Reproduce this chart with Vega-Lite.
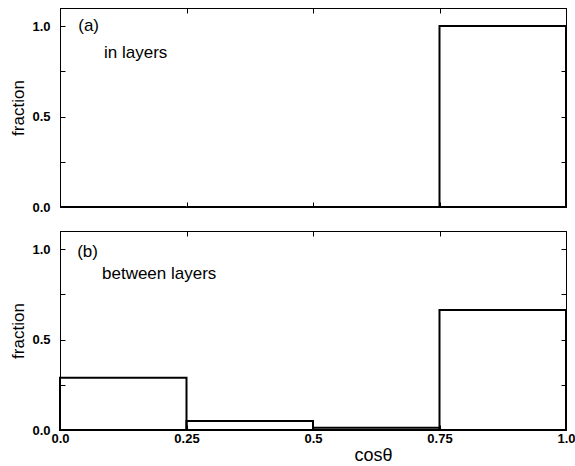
{
  "$schema": "https://vega.github.io/schema/vega-lite/v6.json",
  "padding": {"left": 9, "top": 7, "right": 0, "bottom": 0},
  "spacing": 15,
  "config": {
    "font": "Liberation Sans",
    "view": {"stroke": "black", "strokeWidth": 1},
    "axis": {
      "grid": false,
      "domainColor": "black",
      "tickColor": "black",
      "tickSize": -5,
      "labelFont": "Liberation Sans",
      "labelFontWeight": "bold",
      "labelFontSize": 13,
      "labelColor": "black",
      "titleFont": "Liberation Sans",
      "titleFontWeight": "normal",
      "titleFontSize": 17,
      "titleColor": "black"
    }
  },
  "datasets": {
    "bars": [
      {"panel": "a", "x0": 0, "x1": 0.25, "frac": 0},
      {"panel": "a", "x0": 0.25, "x1": 0.5, "frac": 0},
      {"panel": "a", "x0": 0.5, "x1": 0.75, "frac": 0},
      {"panel": "a", "x0": 0.75, "x1": 1.0, "frac": 1.0},
      {"panel": "b", "x0": 0, "x1": 0.25, "frac": 0.289},
      {"panel": "b", "x0": 0.25, "x1": 0.5, "frac": 0.05},
      {"panel": "b", "x0": 0.5, "x1": 0.75, "frac": 0.013},
      {"panel": "b", "x0": 0.75, "x1": 1.0, "frac": 0.663}
    ],
    "notes": [
      {"panel": "a", "x": 0.036, "y": 1.0, "text": "(a)"},
      {"panel": "a", "x": 0.087, "y": 0.851, "text": "in layers"},
      {"panel": "b", "x": 0.034, "y": 0.983, "text": "(b)"},
      {"panel": "b", "x": 0.083, "y": 0.862, "text": "between layers"}
    ]
  },
  "vconcat": [
    {
      "width": 506,
      "height": 199,
      "resolve": {"axis": {"x": "independent", "y": "independent"}},
      "layer": [
        {
          "data": {"name": "bars"},
          "transform": [{"filter": "datum.panel == 'a'"}],
          "mark": {"type": "rect", "fillOpacity": 0, "stroke": "black", "strokeWidth": 2},
          "encoding": {
            "x": {"field": "x0", "type": "quantitative", "scale": {"domain": [0, 1], "nice": false},
                  "axis": {"orient": "bottom", "values": [0, 0.25, 0.5, 0.75, 1], "labels": false, "title": null}},
            "x2": {"field": "x1"},
            "y": {"field": "frac", "type": "quantitative", "scale": {"domain": [0, 1.1], "nice": false},
                  "axis": {"orient": "left", "values": [0, 0.25, 0.5, 0.75, 1], "labelPadding": 15, "titlePadding": 4,
                           "labelExpr": "datum.value == 0.25 || datum.value == 0.75 ? '' : format(datum.value, '.1f')",
                           "title": "fraction"}},
            "y2": {"datum": 0}
          }
        },
        {
          "data": {"name": "notes"},
          "transform": [{"filter": "datum.panel == 'a'"}],
          "mark": {"type": "text", "align": "left", "baseline": "middle", "fontSize": 17, "font": "Liberation Sans", "color": "black"},
          "encoding": {
            "x": {"field": "x", "type": "quantitative", "scale": {"domain": [0, 1], "nice": false},
                  "axis": {"orient": "top", "values": [0, 0.25, 0.5, 0.75, 1], "labels": false, "title": null}},
            "y": {"field": "y", "type": "quantitative", "scale": {"domain": [0, 1.1], "nice": false},
                  "axis": {"orient": "right", "values": [0, 0.25, 0.5, 0.75, 1], "labels": false, "title": null}},
            "text": {"field": "text"}
          }
        }
      ]
    },
    {
      "width": 506,
      "height": 199,
      "resolve": {"axis": {"x": "independent", "y": "independent"}},
      "layer": [
        {
          "data": {"name": "bars"},
          "transform": [{"filter": "datum.panel == 'b'"}],
          "mark": {"type": "rect", "fillOpacity": 0, "stroke": "black", "strokeWidth": 2},
          "encoding": {
            "x": {"field": "x0", "type": "quantitative", "scale": {"domain": [0, 1], "nice": false},
                  "axis": {"orient": "bottom", "values": [0, 0.25, 0.5, 0.75, 1], "format": ".2~f", "labelPadding": 7,
                           "labelFlush": false,
                           "labelExpr": "datum.value == 0 ? '0.0' : datum.value == 1 ? '1.0' : datum.label",
                           "title": "cosθ", "titleFontSize": 18, "titleX": 313, "titlePadding": 1}},
            "x2": {"field": "x1"},
            "y": {"field": "frac", "type": "quantitative", "scale": {"domain": [0, 1.1], "nice": false},
                  "axis": {"orient": "left", "values": [0, 0.25, 0.5, 0.75, 1], "labelPadding": 15, "titlePadding": 4,
                           "labelExpr": "datum.value == 0.25 || datum.value == 0.75 ? '' : format(datum.value, '.1f')",
                           "title": "fraction"}},
            "y2": {"datum": 0}
          }
        },
        {
          "data": {"name": "notes"},
          "transform": [{"filter": "datum.panel == 'b'"}],
          "mark": {"type": "text", "align": "left", "baseline": "middle", "fontSize": 17, "font": "Liberation Sans", "color": "black"},
          "encoding": {
            "x": {"field": "x", "type": "quantitative", "scale": {"domain": [0, 1], "nice": false},
                  "axis": {"orient": "top", "values": [0, 0.25, 0.5, 0.75, 1], "labels": false, "title": null}},
            "y": {"field": "y", "type": "quantitative", "scale": {"domain": [0, 1.1], "nice": false},
                  "axis": {"orient": "right", "values": [0, 0.25, 0.5, 0.75, 1], "labels": false, "title": null}},
            "text": {"field": "text"}
          }
        }
      ]
    }
  ]
}
